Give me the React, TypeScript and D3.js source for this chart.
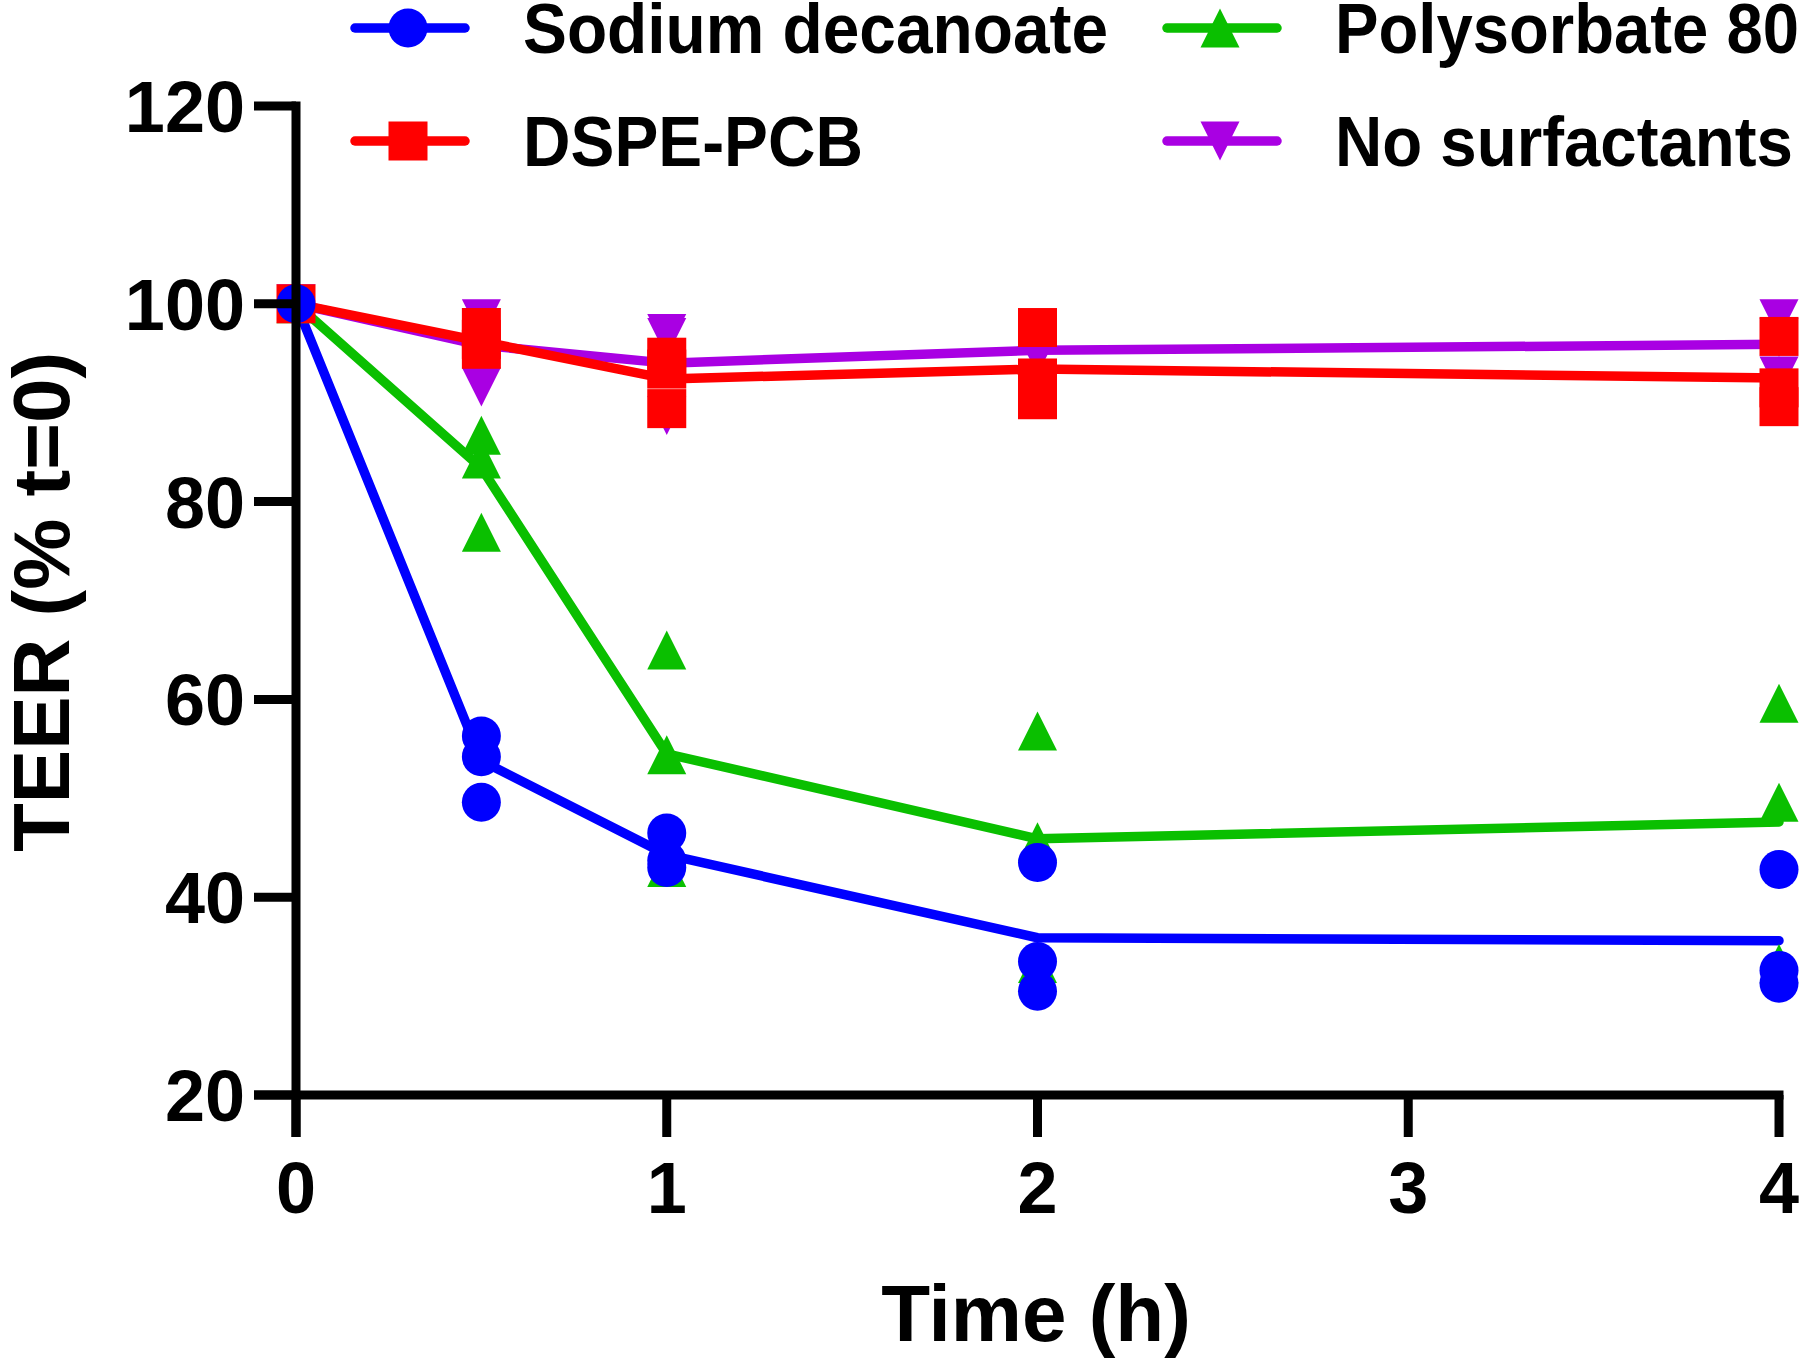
import React from "react";
import * as d3 from "d3";

const times = [0, 0.5, 1, 2, 4];
const xTicks = [0, 1, 2, 3, 4];
const yTicks = [20, 40, 60, 80, 100, 120];

const seriesNames = ["Sodium decanoate", "DSPE-PCB", "Polysorbate 80", "No surfactants"];
const seriesColors = ["#0000ff", "#ff0000", "#0abf00", "#a900e3"];
const seriesShapes = ["circle", "square", "triangle", "triangleDown"];

// individual replicate values per time point
const sodiumReps = [[100], [56.3, 54.2, 49.6], [46.5, 43.7, 43.0], [43.5, 33.5, 30.5], [42.8, 32.6, 31.3]];
const dspeReps = [[100], [97.6, 96.4, 95.4], [94.6, 93.4, 89.4], [97.6, 92.5, 90.3], [96.7, 91.5, 89.6]];
const polyReps = [[100], [86.7, 84.3, 76.9], [65.0, 54.4, 43.0], [56.8, 45.6, 33.3], [59.6, 49.6, 33.3]];
const noSurfReps = [[100], [98.5, 97.6, 91.6], [96.6, 97.0, 88.7], [96.0, 95.2, 94.8], [98.5, 96.6, 92.7]];

// mean line values
const sodiumMean = [100, 53.8, 44.3, 35.9, 35.6];
const dspeMean = [100, 96.2, 92.4, 93.4, 92.5];
const polyMean = [100, 83.4, 54.5, 45.9, 47.6];
const noSurfMean = [100, 95.8, 94.0, 95.3, 95.9];

const allReps = [sodiumReps, dspeReps, polyReps, noSurfReps];
const allMeans = [sodiumMean, dspeMean, polyMean, noSurfMean];

// legend text widths measured from reference
const legendWidths = [585, 340, 464, 458];

const W = 1808;
const H = 1368;
const FONT = "'Liberation Sans', Arial, Helvetica, sans-serif";

const x = d3.scaleLinear().domain([0, 4]).range([296, 1779]);
const y = d3.scaleLinear().domain([20, 120]).range([1095, 106]);

const MS = 39;

function Marker({ shape, cx, cy, color }: { shape: string; cx: number; cy: number; color: string }) {
  const h = MS / 2;
  if (shape === "circle") return <circle cx={cx} cy={cy} r={h} fill={color} />;
  if (shape === "square") return <rect x={cx - h} y={cy - h} width={MS} height={MS} fill={color} />;
  if (shape === "triangle")
    return <polygon points={`${cx},${cy - h} ${cx + h},${cy + h} ${cx - h},${cy + h}`} fill={color} />;
  return <polygon points={`${cx - h},${cy - h} ${cx + h},${cy - h} ${cx},${cy + h}`} fill={color} />;
}

export default function App() {
  const line = d3
    .line<number>()
    .x((_, i) => x(times[i]))
    .y((d) => y(d));

  const drawOrder = [3, 2, 1, 0];
  const tickLen = 42;
  const axisW = 9;

  const legendItems = [
    { idx: 0, lx: 408, ty: 28 },
    { idx: 1, lx: 408, ty: 141 },
    { idx: 2, lx: 1220, ty: 28 },
    { idx: 3, lx: 1220, ty: 141 },
  ];

  return (
    <svg
      width={W}
      height={H}
      style={{ position: "absolute", left: 0, top: 0, background: "#fff" }}
      fontFamily={FONT}
      fontWeight="bold"
    >
      <rect x={0} y={0} width={W} height={H} fill="#fff" />
      {/* lines */}
      {drawOrder.map((s) => (
        <path
          key={"l" + s}
          d={line(allMeans[s]) || ""}
          fill="none"
          stroke={seriesColors[s]}
          strokeWidth={9.5}
          strokeLinecap="round"
          strokeLinejoin="round"
        />
      ))}
      {/* points */}
      {drawOrder.map((s) => (
        <g key={"p" + s}>
          {allReps[s].map((vals, i) =>
            vals.map((v, j) => (
              <Marker key={i + "-" + j} shape={seriesShapes[s]} cx={x(times[i])} cy={y(v)} color={seriesColors[s]} />
            ))
          )}
        </g>
      ))}
      {/* axes */}
      <g stroke="#000" strokeWidth={axisW} fill="none">
        <line x1={x(0)} x2={x(0)} y1={y(120) - axisW / 2} y2={y(20) + tickLen} />
        <line x1={x(0) - tickLen} x2={x(4) + axisW / 2} y1={y(20)} y2={y(20)} />
        {yTicks.map((t) => (
          <line key={"yt" + t} x1={x(0) - tickLen} x2={x(0)} y1={y(t)} y2={y(t)} />
        ))}
        {xTicks.map((t) => (
          <line key={"xt" + t} x1={x(t)} x2={x(t)} y1={y(20)} y2={y(20) + tickLen} />
        ))}
      </g>
      {yTicks.map((t) => (
        <text key={"yl" + t} x={x(0) - tickLen - 9} y={y(t)} dy="0.36em" textAnchor="end" fontSize={72} fill="#000">
          {t}
        </text>
      ))}
      {xTicks.map((t) => (
        <text key={"xl" + t} x={x(t)} y={1213} textAnchor="middle" fontSize={72} fill="#000">
          {t}
        </text>
      ))}
      <text x={1036} y={1341} textAnchor="middle" fontSize={80} fill="#000">
        Time (h)
      </text>
      <text transform="translate(69,602) rotate(-90)" textAnchor="middle" fontSize={80} fill="#000">
        TEER (% t=0)
      </text>
      {/* legend */}
      {legendItems.map((it) => (
        <g key={"lg" + it.idx}>
          <line
            x1={it.lx - 53}
            x2={it.lx + 57}
            y1={it.ty}
            y2={it.ty}
            stroke={seriesColors[it.idx]}
            strokeWidth={9.5}
            strokeLinecap="round"
          />
          <Marker shape={seriesShapes[it.idx]} cx={it.lx} cy={it.ty} color={seriesColors[it.idx]} />
          <text
            x={it.lx + 115}
            y={it.ty}
            dy="0.36em"
            fontSize={70}
            fill="#000"
            textLength={legendWidths[it.idx]}
            lengthAdjust="spacingAndGlyphs"
          >
            {seriesNames[it.idx]}
          </text>
        </g>
      ))}
    </svg>
  );
}
